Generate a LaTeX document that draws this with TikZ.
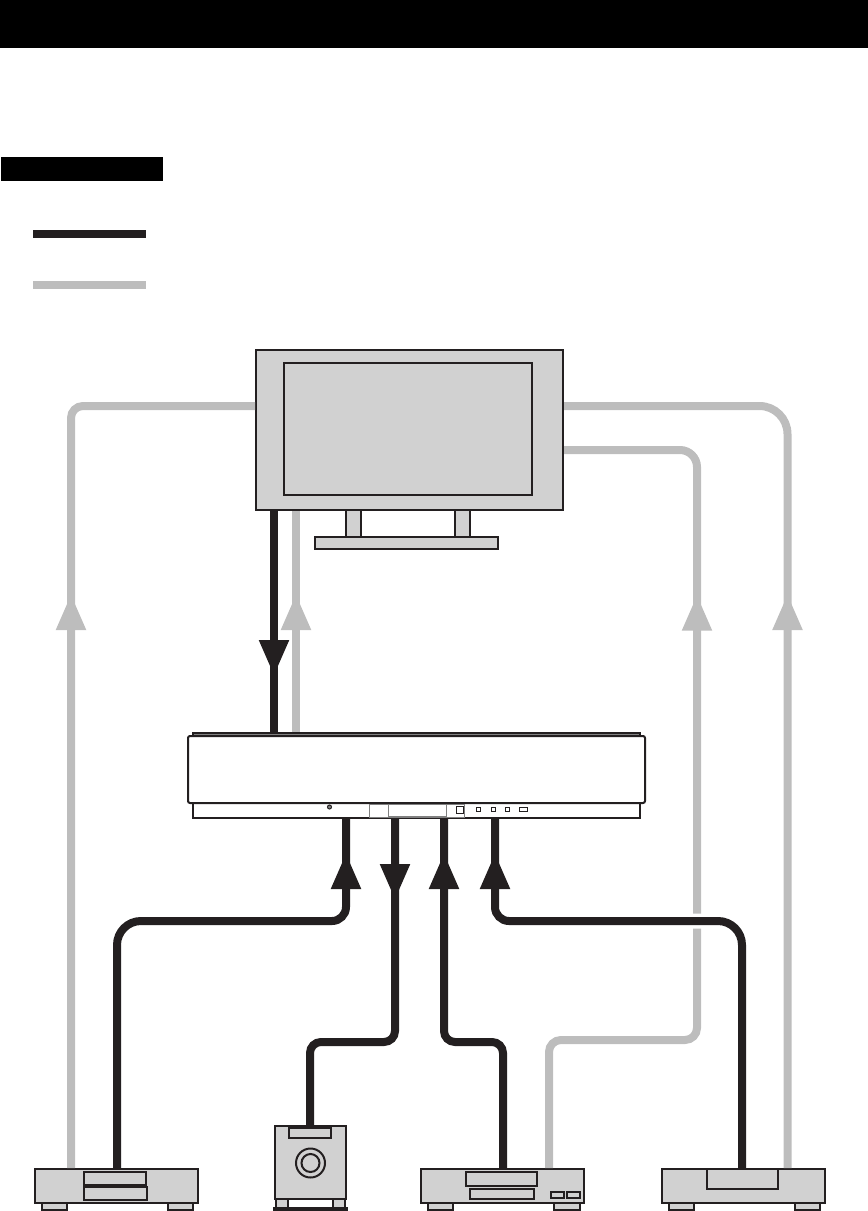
\documentclass[tikz,border=0pt]{standalone}
\usetikzlibrary{arrows.meta,decorations.markings}
\definecolor{darkline}{HTML}{231F20}
\definecolor{greyline}{HTML}{BDBDBD}
\definecolor{bodygrey}{HTML}{D1D1D1}
\tikzset{
  unit/.style={draw=darkline,fill=bodygrey,line width=2pt,inner sep=0pt,outer sep=1pt},
  part/.style={draw=darkline,fill=bodygrey,line width=2pt},
  bar/.style={fill=#1,inner sep=0pt,outer sep=0pt},
  wire/.style={line width=8pt},
  greywire/.style={wire,draw=greyline},
  darkwire/.style={wire,draw=darkline},
  tipat/.style={postaction={decorate,decoration={markings,mark=at position #1 with {\arrow{Triangle[width=28pt,length=36pt]}}}}}
}
\begin{document}
\begin{tikzpicture}[x=1pt,y=-1pt]
  \useasboundingbox (0,0) rectangle (868,1211);
  \node[bar=black,minimum width=868pt,minimum height=48pt] (header) at (434,24) {};
  \node[bar=black,minimum width=162pt,minimum height=24pt] (label) at (82,169) {};
  \node[bar=darkline,minimum width=113pt,minimum height=8pt] (keydark) at (89.5,234) {};
  \node[bar=greyline,minimum width=113pt,minimum height=8pt] (keygrey) at (89.5,285) {};

  \node[unit,minimum width=307pt,minimum height=160pt] (tv) at (409.5,430) {};
  \node[unit,fill=white,minimum width=447pt,minimum height=15pt] (panel) at (416.5,810.5) {};
  \node[unit,fill=gray,minimum width=447pt,minimum height=3pt] (lid) at (416.5,734.5) {};
  \node[unit,fill=white,rounded corners=2pt,minimum width=457pt,minimum height=67pt] (amp) at (416.5,769.5) {};
  \node[unit,minimum width=163pt,minimum height=34pt] (bd) at (116.5,1186) {};
  \node[unit,minimum width=71pt,minimum height=73pt] (sub) at (310.5,1162.5) {};
  \node[unit,minimum width=163pt,minimum height=34pt] (vcr) at (502.5,1186) {};
  \node[unit,minimum width=163pt,minimum height=34pt] (stb) at (743.5,1186) {};

  \draw[part] (284,363) rectangle (532,495);
  \draw[part] (346,510) rectangle (361,537);
  \draw[part] (455,510) rectangle (470,537);
  \draw[part] (315,537) rectangle (498,549);

  \draw[part,draw=gray,fill=white,line width=1pt] (369,804) rectangle (464,817);
  \draw[part,draw=gray,fill=white,line width=1pt] (388,804) rectangle (446,816);
  \draw[part,fill=white,line width=1pt] (456,806) rectangle (463,813);
  \draw[part,fill=white,line width=.7pt] (476.5,807) rectangle (480.5,811);
  \draw[part,fill=white,line width=.7pt] (491,807) rectangle (495,811);
  \draw[part,fill=white,line width=.7pt] (505,807) rectangle (509,811);
  \draw[part,fill=white,line width=.7pt] (519,807) rectangle (527,811);
  \draw[part,fill=gray,line width=1pt] (329.5,807) circle (2);

  \draw[part] (84,1172) rectangle (146,1185);
  \draw[part] (84,1187) rectangle (147,1200);
  \draw[part] (42,1203) rectangle (67,1210);
  \draw[part] (168,1203) rectangle (193,1210);

  \draw[part] (289,1128) rectangle (331,1138);
  \draw[part] (310.5,1163) circle (14.5);
  \draw[part] (310.5,1163) circle (9);
  \draw[part] (276,1199) rectangle (288,1208);
  \draw[part] (333,1199) rectangle (345,1208);
  \node[bar=darkline,minimum width=75pt,minimum height=3.5pt] (subfoot) at (310.5,1209.2) {};

  \draw[part] (466,1172) rectangle (537,1186);
  \draw[part] (470,1189) rectangle (534,1199);
  \draw[part] (551,1192) rectangle (564,1198);
  \draw[part] (567,1192) rectangle (580,1198);
  \draw[part] (428,1203) rectangle (453,1210);
  \draw[part] (554,1203) rectangle (580,1210);

  \draw[part] (707,1169) rectangle (778,1189);
  \draw[part] (669,1203) rectangle (694,1210);
  \draw[part] (795,1203) rectangle (820,1210);

  \draw[greywire,rounded corners=12pt,tipat=574pt] ([xshift=-45.5pt]bd.north) |- ([yshift=24pt]tv.west);
  \draw[greywire,tipat=138pt] ([xshift=-120.5pt]lid.north) -- ([xshift=-113.5pt]tv.south);
  \draw[greywire,tipat=574pt] ([xshift=44pt]stb.north) [rounded corners=28pt] |- ([yshift=24pt]tv.east);
  \draw[greywire,rounded corners=12pt,tipat=711pt] ([xshift=46.5pt]vcr.north) -- ++(0,-128) -- ++(148,0) [rounded corners=17pt] |- ([yshift=-20pt]tv.east);

  \draw[darkwire,tipat=165pt] ([xshift=-135.5pt]tv.south) -- ([xshift=-142.5pt]lid.north);
  \draw[darkwire,tipat=-34pt] ([xshift=0.5pt]bd.north) [rounded corners=24pt] -- ++(0,-247) [rounded corners=14pt] -| ([xshift=-70.5pt]panel.south);
  \draw[darkwire,rounded corners=11pt,tipat=81pt] ([xshift=-21.5pt]panel.south) -- ++(0,223) -| ([xshift=-0.5pt]sub.north);
  \draw[darkwire,rounded corners=11pt,tipat=-34pt] ([xshift=0.5pt]vcr.north) -- ++(0,-126) -| ([xshift=27.5pt]panel.south);
  \draw[darkwire,tipat=-34pt,preaction={draw=white,line width=15pt,shorten <=20pt,shorten >=20pt}] ([xshift=-1.5pt]stb.north) [rounded corners=24pt] -- ++(0,-247) [rounded corners=14pt] -| ([xshift=78.5pt]panel.south);
\end{tikzpicture}
\end{document}
